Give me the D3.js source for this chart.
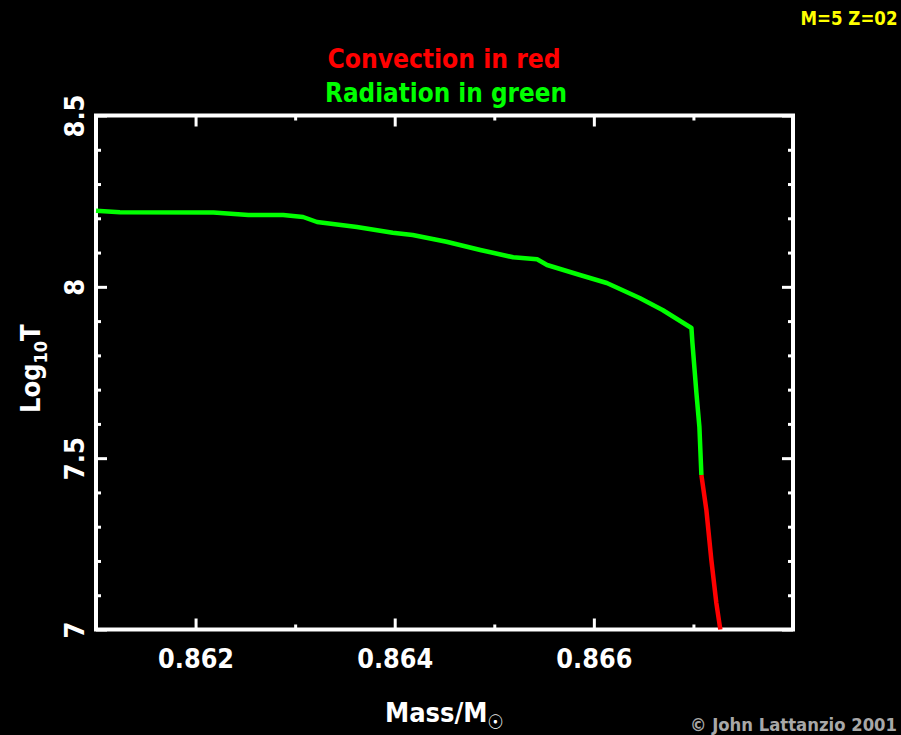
<!DOCTYPE html>
<html>
<head>
<meta charset="utf-8">
<script src="https://cdn.jsdelivr.net/npm/d3@7"></script>
<style>
  html, body { margin: 0; padding: 0; background: #000; }
  svg { display: block; }
  text { font-family: "DejaVu Sans Condensed", "DejaVu Sans", sans-serif; font-weight: bold; font-stretch: condensed; }
</style>
</head>
<body>
<svg id="chart" width="901" height="735"></svg>
<script>
// Radiative zone: enclosed mass (solar masses) and log10 of temperature
const radMass = [0.861, 0.86124, 0.86218, 0.86253, 0.86288, 0.86308, 0.86322, 0.86362,
  0.86398, 0.86418, 0.86452, 0.86486, 0.86519, 0.86543, 0.86553, 0.86586, 0.86613,
  0.86646, 0.86669, 0.86698, 0.86699, 0.86703, 0.86706, 0.86708];
const radLogT = [8.222, 8.2175, 8.2169, 8.2096, 8.2096, 8.2038, 8.1892, 8.1746,
  8.158, 8.1512, 8.1317, 8.1075, 8.0862, 8.0803, 8.0637, 8.0345, 8.0112,
  7.9674, 7.9324, 7.8798, 7.8361, 7.6902, 7.591, 7.4509];

// Convective zone
const convMass = [0.86708, 0.86713, 0.86718, 0.86723, 0.86727];
const convLogT = [7.4509, 7.3487, 7.2028, 7.0773, 7.0];

// Axis ticks
const xMajorTicks = [0.862, 0.864, 0.866];
const xMinorTicks = [0.863, 0.865, 0.867];
const yMajorTicks = [7, 7.5, 8, 8.5];
const yMinorTicks = [7.1, 7.2, 7.3, 7.4, 7.6, 7.7, 7.8, 7.9, 8.1, 8.2, 8.3, 8.4];
const xTickLabels = ["0.862", "0.864", "0.866"];
const yTickLabels = ["7", "7.5", "8", "8.5"];

const svg = d3.select("#chart");
svg.append("rect").attr("width", 901).attr("height", 735).attr("fill", "#000");

const plotLeft = 96, plotRight = 793, plotTop = 115.5, plotBottom = 629.5;
const x = d3.scaleLinear().domain([0.861, 0.868]).range([plotLeft, plotRight]);
const y = d3.scaleLinear().domain([7, 8.5]).range([plotBottom, plotTop]);

const majorLen = 11, minorLen = 5;

function styleAxis(g) {
  g.select(".domain").remove();
  g.selectAll(".tick line").attr("stroke", "#fff").attr("stroke-width", 3);
}

// Bottom axis
const gb = svg.append("g").attr("transform", `translate(0,${plotBottom})`);
gb.call(d3.axisBottom(x).tickValues(xMajorTicks).tickSize(-majorLen).tickPadding(0)
  .tickFormat((d, i) => xTickLabels[i]));
styleAxis(gb);
gb.selectAll(".tick text")
  .attr("y", 38).attr("dy", 0)
  .attr("fill", "#fff").attr("font-size", 27)
  .attr("textLength", 76).attr("lengthAdjust", "spacingAndGlyphs");
const gbm = svg.append("g").attr("transform", `translate(0,${plotBottom})`);
gbm.call(d3.axisBottom(x).tickValues(xMinorTicks).tickSize(-minorLen).tickFormat(""));
styleAxis(gbm);

// Top axis
const gt = svg.append("g").attr("transform", `translate(0,${plotTop})`);
gt.call(d3.axisTop(x).tickValues(xMajorTicks).tickSize(-majorLen).tickFormat(""));
styleAxis(gt);
const gtm = svg.append("g").attr("transform", `translate(0,${plotTop})`);
gtm.call(d3.axisTop(x).tickValues(xMinorTicks).tickSize(-minorLen).tickFormat(""));
styleAxis(gtm);

// Left axis (labels rotated)
const gl = svg.append("g").attr("transform", `translate(${plotLeft},0)`);
gl.call(d3.axisLeft(y).tickValues(yMajorTicks).tickSize(-majorLen)
  .tickFormat((d, i) => yTickLabels[i]));
styleAxis(gl);
gl.selectAll(".tick text")
  .attr("transform", "rotate(-90)")
  .attr("x", 0).attr("y", -12).attr("dy", 0)
  .attr("text-anchor", "middle")
  .attr("fill", "#fff").attr("font-size", 27);
const glm = svg.append("g").attr("transform", `translate(${plotLeft},0)`);
glm.call(d3.axisLeft(y).tickValues(yMinorTicks).tickSize(-minorLen).tickFormat(""));
styleAxis(glm);

// Right axis
const gr = svg.append("g").attr("transform", `translate(${plotRight},0)`);
gr.call(d3.axisRight(y).tickValues(yMajorTicks).tickSize(-majorLen).tickFormat(""));
styleAxis(gr);
const grm = svg.append("g").attr("transform", `translate(${plotRight},0)`);
grm.call(d3.axisRight(y).tickValues(yMinorTicks).tickSize(-minorLen).tickFormat(""));
styleAxis(grm);

// Plot frame
svg.append("rect")
  .attr("x", plotLeft).attr("y", plotTop)
  .attr("width", plotRight - plotLeft).attr("height", plotBottom - plotTop)
  .attr("fill", "none").attr("stroke", "#fff").attr("stroke-width", 4);

// Temperature profile
const line = d3.line().x(d => x(d[0])).y(d => y(d[1]));
svg.append("path")
  .datum(radMass.map((m, i) => [m, radLogT[i]]))
  .attr("d", line)
  .attr("fill", "none").attr("stroke", "#00ff00").attr("stroke-width", 4.5)
  .attr("stroke-linejoin", "round");
svg.append("path")
  .datum(convMass.map((m, i) => [m, convLogT[i]]))
  .attr("d", line)
  .attr("fill", "none").attr("stroke", "#ff0000").attr("stroke-width", 4.5)
  .attr("stroke-linejoin", "round");

// Titles
svg.append("text").attr("x", 444).attr("y", 68).attr("text-anchor", "middle")
  .attr("fill", "#ff0000").attr("font-size", 27)
  .attr("textLength", 233).attr("lengthAdjust", "spacingAndGlyphs")
  .text("Convection in red");
svg.append("text").attr("x", 446).attr("y", 102).attr("text-anchor", "middle")
  .attr("fill", "#00ff00").attr("font-size", 27)
  .attr("textLength", 242).attr("lengthAdjust", "spacingAndGlyphs")
  .text("Radiation in green");

// Model label
svg.append("text").attr("x", 849).attr("y", 25).attr("text-anchor", "middle")
  .attr("fill", "#ffff00").attr("font-size", 19)
  .attr("textLength", 97).attr("lengthAdjust", "spacingAndGlyphs")
  .text("M=5 Z=02");

// Axis titles
const xt = svg.append("text").attr("x", 385).attr("y", 722)
  .attr("fill", "#fff").attr("font-size", 27);
xt.append("tspan").text("Mass/M");
xt.append("tspan").attr("dy", 7).attr("font-size", 20).text("☉");

const yt = svg.append("text")
  .attr("transform", "translate(40,413) rotate(-90)")
  .attr("fill", "#fff").attr("font-size", 27);
yt.append("tspan").text("Log");
yt.append("tspan").attr("dy", 7).attr("font-size", 18).text("10");
yt.append("tspan").attr("dy", -7).text("T");

// Credit
svg.append("text").attr("x", 690).attr("y", 731)
  .attr("fill", "#a8a8a8").attr("font-size", 17)
  .attr("textLength", 207).attr("lengthAdjust", "spacingAndGlyphs")
  .text("© John Lattanzio 2001");
</script>
</body>
</html>
